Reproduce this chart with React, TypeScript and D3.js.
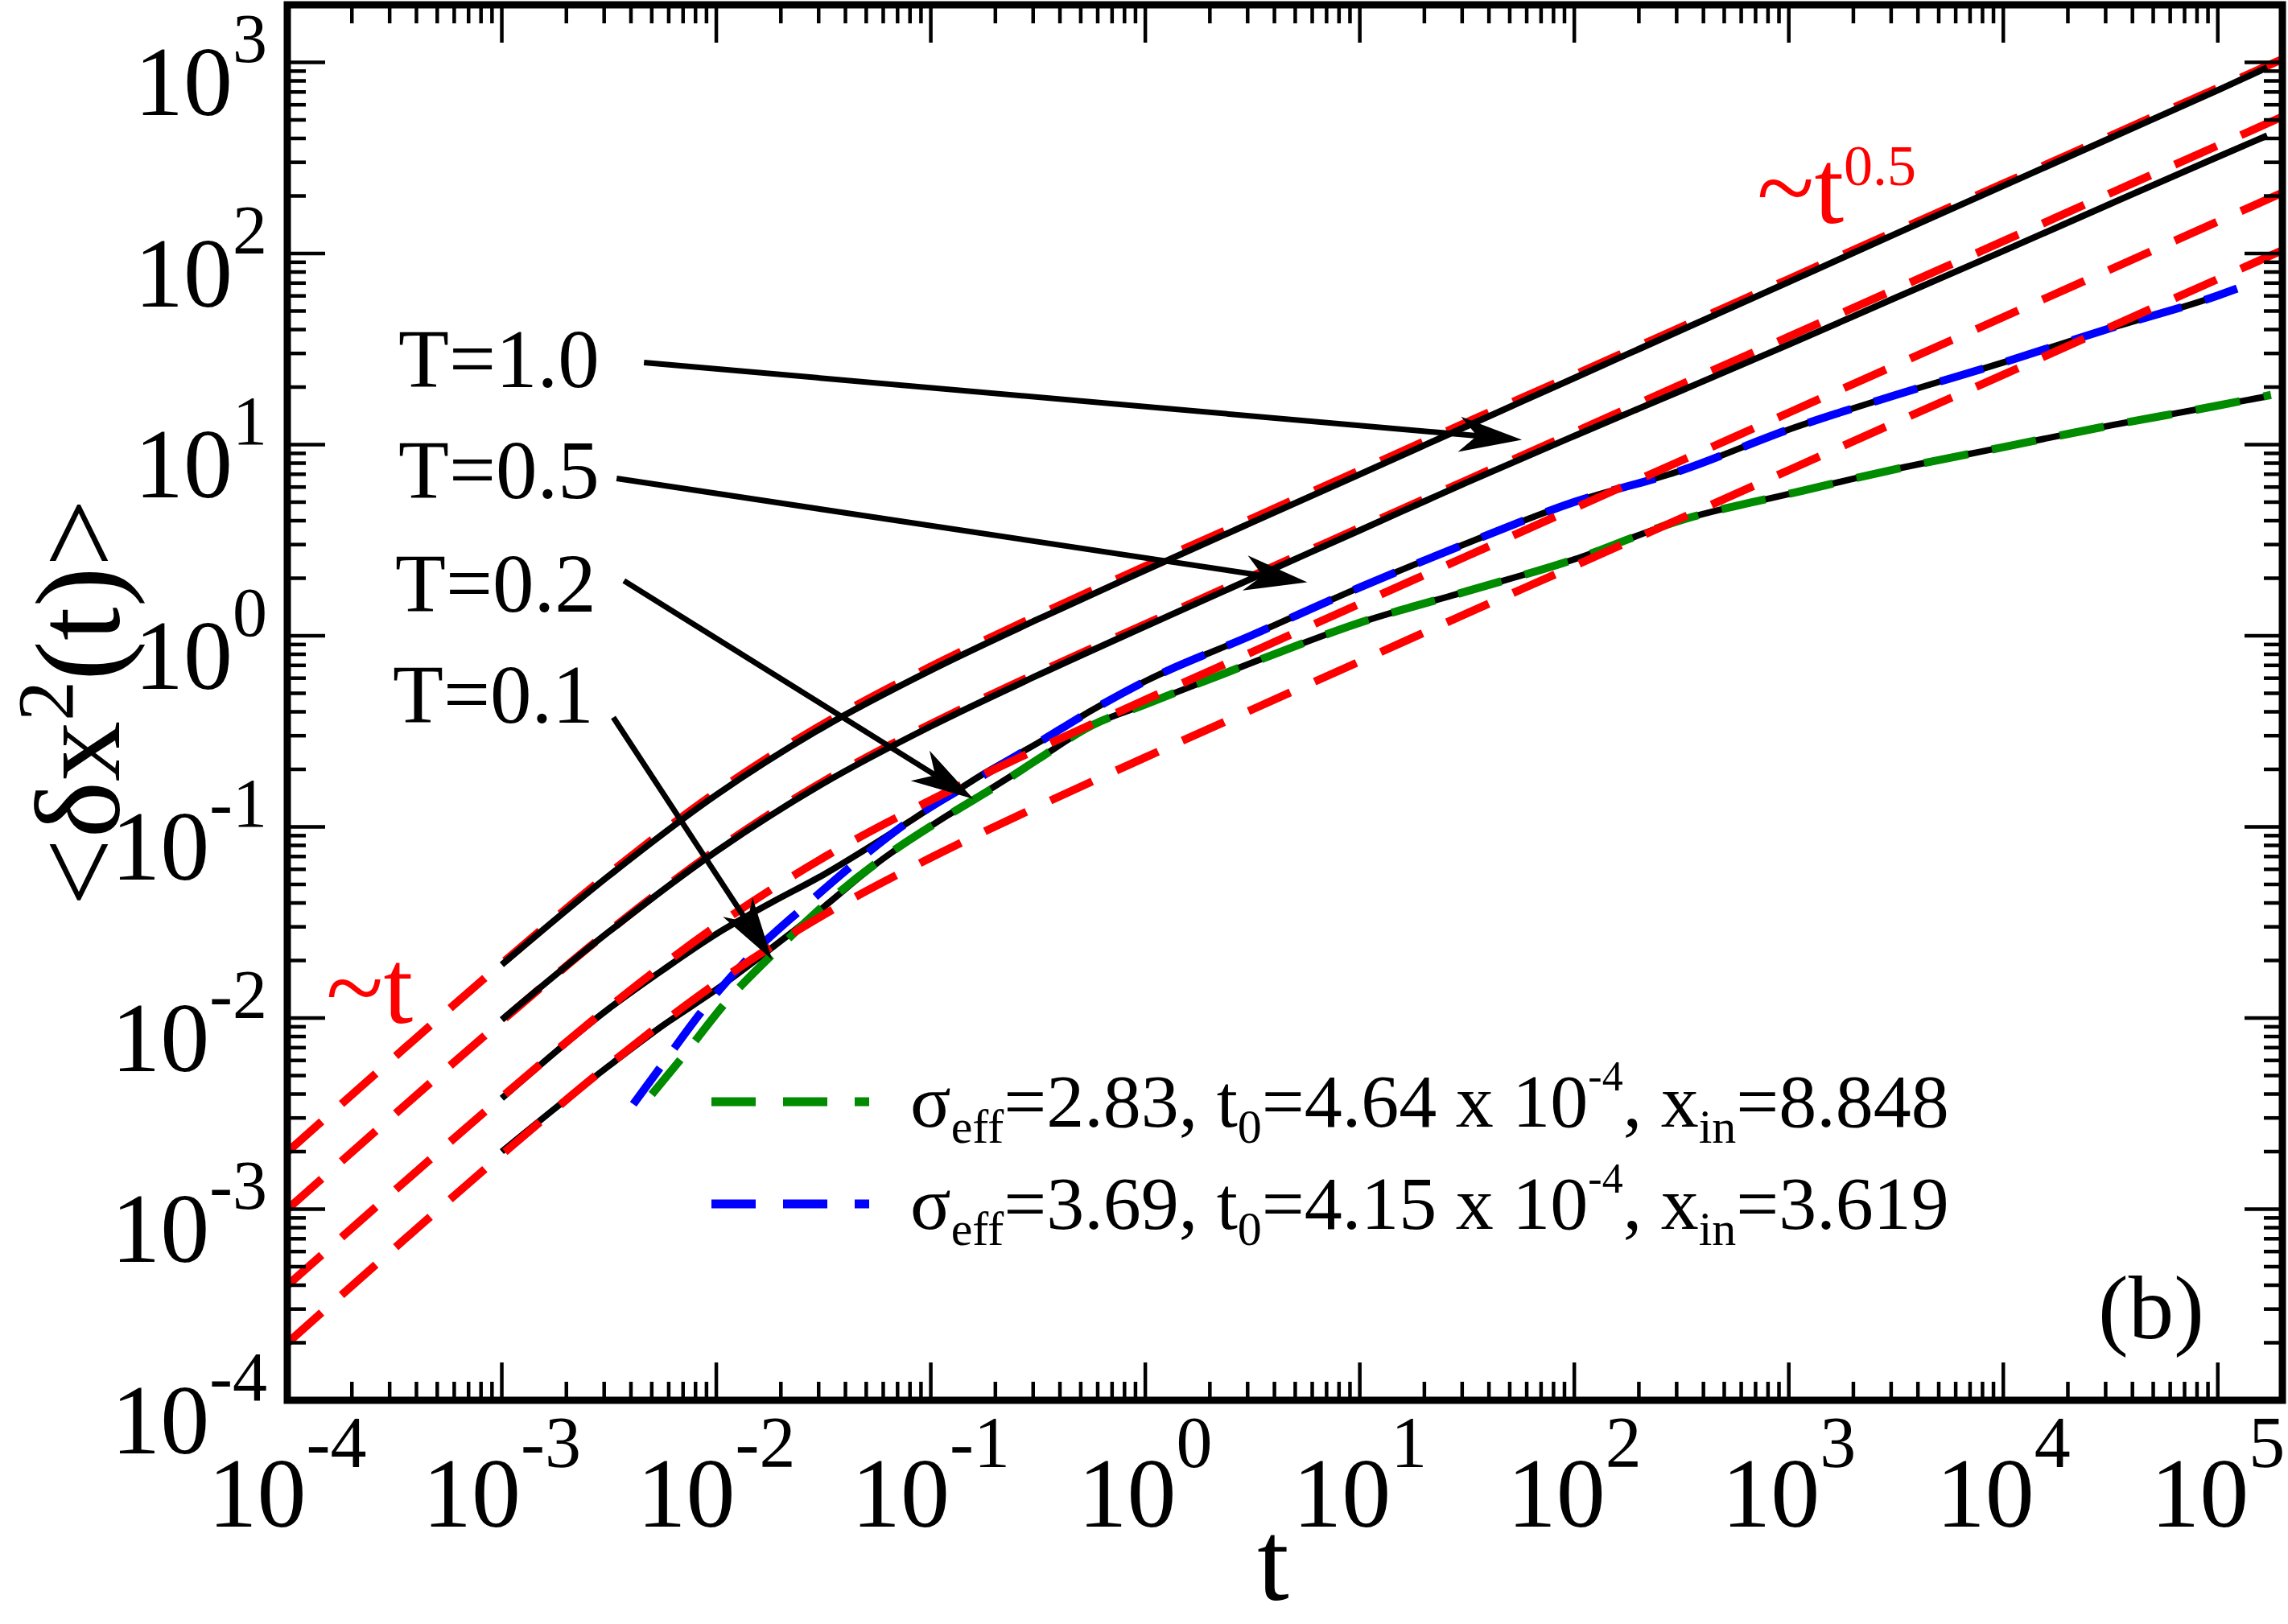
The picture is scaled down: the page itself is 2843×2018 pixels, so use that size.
import * as d3 from "d3";
import React, { useEffect, useRef } from "react";

const W = 2843;
const H = 2018;
const FONT = "'Liberation Serif', 'Times New Roman', serif";

// axis ticks (powers of ten)
const xExponents = [-4, -3, -2, -1, 0, 1, 2, 3, 4, 5];
const yExponents = [-4, -3, -2, -1, 0, 1, 2, 3];

// red dashed guide curves (~t -> ~t^0.5)
const tRed = [1e-4, 3.16e-4, 1e-3, 3.16e-3, 1e-2, 3.16e-2, 0.1, 0.316, 1, 3.16, 10, 31.6, 100, 316, 1e3, 3.16e3, 1e4, 3.16e4, 1e5, 2e5];
const red10 = [0.00199, 0.00625, 0.0193, 0.0569, 0.152, 0.346, 0.69, 1.28, 2.31, 4.12, 7.34, 13.1, 23.2, 41.3, 73.5, 131, 232, 413, 735, 1040];
const red05 = [0.000997, 0.00313, 0.00965, 0.0285, 0.0758, 0.173, 0.345, 0.64, 1.15, 2.06, 3.67, 6.53, 11.6, 20.7, 36.7, 65.3, 116, 207, 367, 520];
const red02 = [0.000399, 0.00125, 0.00386, 0.0114, 0.0303, 0.0691, 0.138, 0.256, 0.462, 0.824, 1.47, 2.61, 4.65, 8.26, 14.7, 26.1, 46.5, 82.6, 147, 208];
const red01 = [0.000199, 0.000625, 0.00193, 0.00569, 0.0152, 0.0346, 0.069, 0.128, 0.231, 0.412, 0.734, 1.31, 2.32, 4.13, 7.35, 13.1, 23.2, 41.3, 73.5, 104];

// simulation curves (black)
const tHot = [1e-3, 3.16e-3, 1e-2, 3.16e-2, 0.1, 0.316, 1, 3.16, 10, 31.6, 100, 316, 1e3, 3.16e3, 1e4, 3.16e4, 1e5, 1.7e5];
const msdT10 = [0.019, 0.0555, 0.147, 0.333, 0.66, 1.22, 2.2, 3.93, 7.0, 12.5, 22.3, 39.8, 71.0, 127, 226, 402, 715, 940];
const msdT05 = [0.0098, 0.0283, 0.0745, 0.169, 0.336, 0.622, 1.12, 2.0, 3.56, 6.35, 11.1, 19.2, 33.4, 58.8, 103, 182, 320, 414];

const tT02 = [1e-3, 3.16e-3, 5.62e-3, 1e-2, 1.78e-2, 3.16e-2, 5.62e-2, 0.1, 0.178, 0.316, 0.562, 1, 3.16, 10, 31.6, 100, 316, 1e3, 3.16e3, 1e4, 3.16e4, 1e5, 1.18e5];
const msdT02 = [0.0038, 0.0112, 0.0178, 0.0275, 0.0398, 0.0562, 0.0832, 0.126, 0.191, 0.275, 0.407, 0.578, 1.01, 1.79, 3.05, 5.01, 7.33, 12.0, 18.2, 26.9, 40.7, 60.3, 64.6];

const tT01 = [1e-3, 3.16e-3, 5.62e-3, 1e-2, 1.78e-2, 3.16e-2, 5.62e-2, 0.1, 0.178, 0.316, 0.562, 1, 3.16, 10, 31.6, 100, 316, 1e3, 3.16e3, 1e4, 3.16e4, 1e5, 1.66e5];
const msdT01 = [0.002, 0.00562, 0.00912, 0.0141, 0.0229, 0.038, 0.0646, 0.101, 0.151, 0.226, 0.339, 0.437, 0.724, 1.17, 1.71, 2.51, 4.03, 5.52, 7.45, 9.7, 12.6, 16.0, 17.8];

// fits
const tBlue = [4.1e-3, 5.6e-3, 8.7e-3, 1.47e-2, 2.54e-2, 4.61e-2, 8.38e-2, 0.154, 0.316, 0.562, 1, 3.16, 10, 31.6, 100, 316, 1e3, 3.16e3, 1e4, 3.16e4, 1e5, 1.23e5];
const fitBlue = [0.00354, 0.0057, 0.0111, 0.0216, 0.0378, 0.0671, 0.112, 0.17, 0.275, 0.407, 0.578, 1.01, 1.79, 3.05, 5.01, 7.33, 12.0, 18.2, 26.9, 40.7, 60.3, 65.6];
const tGreen = [5.0e-3, 7.0e-3, 1.11e-2, 1.87e-2, 3.32e-2, 6.19e-2, 0.116, 0.221, 0.316, 0.562, 1, 3.16, 10, 31.6, 100, 316, 1e3, 3.16e3, 1e4, 3.16e4, 1e5, 1.77e5];
const fitGreen = [0.00398, 0.0063, 0.0121, 0.0221, 0.0406, 0.0705, 0.112, 0.174, 0.226, 0.339, 0.437, 0.724, 1.17, 1.71, 2.51, 4.03, 5.52, 7.45, 9.7, 12.6, 16.0, 18.2];

// legend entries
const legendColors = ["#008b00", "#0000ff"];
const legendSigma = ["2.83", "3.69"];
const legendT0 = ["4.64", "4.15"];
const legendXin = ["8.848", "3.619"];

// temperature labels and arrows (tail -> tip, data coords)
const tempLabels = ["T=1.0", "T=0.5", "T=0.2", "T=0.1"];
const arrowTail: [number, number][] = [[4.6e-3, 26.9], [3.43e-3, 6.65], [3.71e-3, 1.94], [3.31e-3, 0.374]];
const arrowTip: [number, number][] = [[57, 10.6], [5.69, 1.905], [0.158, 0.14], [0.0182, 0.0202]];

export default function App() {
  const svgRef = useRef<SVGSVGElement | null>(null);

  useEffect(() => {
    if (!svgRef.current) return;
    const svg = d3.select(svgRef.current);
    svg.selectAll("*").remove();

    const left = 357, right = 2836, top = 6, bottom = 1740;
    const x = d3.scaleLog().domain([1e-4, 2e5]).range([left, right]);
    const y = d3.scaleLog().domain([1e-4, 2e3]).range([bottom, top]);

    svg.append("rect").attr("width", W).attr("height", H).attr("fill", "#fff");
    svg.append("defs").append("clipPath").attr("id", "plotclip")
      .append("rect").attr("x", left).attr("y", top).attr("width", right - left).attr("height", bottom - top);

    const line = d3.line<[number, number]>()
      .x((d) => x(d[0]))
      .y((d) => y(d[1]))
      .curve(d3.curveMonotoneX);

    const plot = svg.append("g").attr("clip-path", "url(#plotclip)");

    const draw = (ts: number[], vs: number[], color: string, width: number, dash?: string) => {
      const p = plot.append("path")
        .datum(d3.zip(ts, vs) as [number, number][])
        .attr("d", line)
        .attr("fill", "none")
        .attr("stroke", color)
        .attr("stroke-width", width)
        .attr("stroke-linejoin", "round");
      if (dash) p.attr("stroke-dasharray", dash);
    };

    const RED = "#ff0000";
    const redDash = "57,33";
    draw(tRed, red10, RED, 10, redDash);
    draw(tRed, red05, RED, 10, redDash);
    draw(tHot, msdT10, "#000", 8);
    draw(tHot, msdT05, "#000", 8);
    draw(tT02, msdT02, "#000", 8);
    draw(tT01, msdT01, "#000", 8);
    draw(tGreen, fitGreen, legendColors[0], 10, "56,30");
    draw(tBlue, fitBlue, legendColors[1], 10, "56,30");
    draw(tRed, red02, RED, 10, redDash);
    draw(tRed, red01, RED, 10, redDash);

    // frame and ticks
    const axes = svg.append("g").attr("stroke", "#000");
    const xMinor: number[] = [];
    for (let e = -4; e <= 5; e++) for (let k = 2; k <= 9; k++) if (k * 10 ** e < 2e5) xMinor.push(k * 10 ** e);
    const yMinor: number[] = [];
    for (let e = -4; e <= 3; e++) for (let k = 2; k <= 9; k++) if (k * 10 ** e < 2e3) yMinor.push(k * 10 ** e);

    const tick = (x1: number, y1: number, x2: number, y2: number) =>
      axes.append("line").attr("x1", x1).attr("y1", y1).attr("x2", x2).attr("y2", y2).attr("stroke-width", 4.5);
    xExponents.forEach((e) => {
      const px = x(10 ** e);
      tick(px, bottom, px, bottom - 47);
      tick(px, top, px, top + 47);
    });
    xMinor.forEach((t) => {
      const px = x(t);
      tick(px, bottom, px, bottom - 23);
      tick(px, top, px, top + 23);
    });
    yExponents.forEach((e) => {
      const py = y(10 ** e);
      tick(left, py, left + 47, py);
      tick(right, py, right - 47, py);
    });
    yMinor.forEach((v) => {
      const py = y(v);
      tick(left, py, left + 23, py);
      tick(right, py, right - 23, py);
    });
    axes.append("rect").attr("x", left).attr("y", top).attr("width", right - left).attr("height", bottom - top)
      .attr("fill", "none").attr("stroke-width", 9);

    const txt = svg.append("g").attr("font-family", FONT).attr("fill", "#000");

    // x tick labels
    xExponents.forEach((e) => {
      const t = txt.append("text").attr("x", x(10 ** e)).attr("y", 1897)
        .attr("text-anchor", "middle").attr("font-size", 122);
      t.append("tspan").text("10");
      t.append("tspan").attr("font-size", 90).attr("dy", -74).text(String(e));
    });
    // y tick labels
    yExponents.forEach((e) => {
      const t = txt.append("text").attr("x", 332).attr("y", y(10 ** e) + 66)
        .attr("text-anchor", "end").attr("font-size", 122);
      t.append("tspan").text("10");
      t.append("tspan").attr("font-size", 86).attr("dy", -66).text(String(e));
    });

    // axis titles
    txt.append("text").attr("x", 1582).attr("y", 1988)
      .attr("text-anchor", "middle").attr("font-size", 142).text("t");
    const yt = txt.append("text").attr("transform", `translate(148,${(top + bottom) / 2}) rotate(-90)`)
      .attr("text-anchor", "middle").attr("font-size", 150);
    yt.append("tspan").text("<δx");
    yt.append("tspan").attr("font-size", 100).attr("dy", -58).text("2");
    yt.append("tspan").attr("dy", 58).text("(t)>");

    // power-law labels
    txt.append("text").attr("x", 405).attr("y", 1271).attr("font-size", 132).attr("fill", RED).text("~t");
    const half = txt.append("text").attr("x", 2183).attr("y", 277).attr("font-size", 132).attr("fill", RED);
    half.append("tspan").text("~t");
    half.append("tspan").attr("font-size", 72).attr("dy", -47).text("0.5");

    txt.append("text").attr("x", 2607).attr("y", 1663).attr("font-size", 113).text("(b)");

    // temperature labels
    const labelX = [495, 495, 491, 488];
    const labelY = [481, 619, 760, 898];
    tempLabels.forEach((s, i) => {
      txt.append("text").attr("x", labelX[i]).attr("y", labelY[i]).attr("font-size", 103).text(s);
    });

    // arrows
    const arrows = svg.append("g");
    arrowTail.forEach((a, i) => {
      const x0 = x(a[0]), y0 = y(a[1]);
      const x1 = x(arrowTip[i][0]), y1 = y(arrowTip[i][1]);
      const ang = Math.atan2(y1 - y0, x1 - x0);
      const len = 78, hw = 22, notch = 22;
      const ux = Math.cos(ang), uy = Math.sin(ang);
      const bx = x1 - ux * len, by = y1 - uy * len;
      const nx = x1 - ux * (len - notch), ny = y1 - uy * (len - notch);
      arrows.append("line").attr("x1", x0).attr("y1", y0).attr("x2", nx).attr("y2", ny)
        .attr("stroke", "#000").attr("stroke-width", 7);
      arrows.append("path")
        .attr("d", `M${x1},${y1}L${bx - uy * hw},${by + ux * hw}L${nx},${ny}L${bx + uy * hw},${by - ux * hw}Z`)
        .attr("fill", "#000");
    });

    // legend
    legendColors.forEach((c, i) => {
      const ly = 1369 + i * 127;
      svg.append("line").attr("x1", 884).attr("x2", 1080).attr("y1", ly).attr("y2", ly)
        .attr("stroke", c).attr("stroke-width", 11).attr("stroke-dasharray", "55,34");
      const t = txt.append("text").attr("x", 1131).attr("y", ly + 31).attr("font-size", 94);
      t.append("tspan").text("σ");
      t.append("tspan").attr("font-size", 60).attr("dy", 20).text("eff");
      t.append("tspan").attr("dy", -20).text(`=${legendSigma[i]}, t`);
      t.append("tspan").attr("font-size", 60).attr("dy", 20).text("0");
      t.append("tspan").attr("dy", -20).text(`=${legendT0[i]} x 10`);
      t.append("tspan").attr("font-size", 52).attr("dy", -45).text("-4");
      t.append("tspan").attr("dy", 45).text(", x");
      t.append("tspan").attr("font-size", 60).attr("dy", 20).text("in");
      t.append("tspan").attr("dy", -20).text(`=${legendXin[i]}`);
    });
  }, []);

  return <svg ref={svgRef} width={W} height={H} style={{ position: "absolute", left: 0, top: 0 }} />;
}
